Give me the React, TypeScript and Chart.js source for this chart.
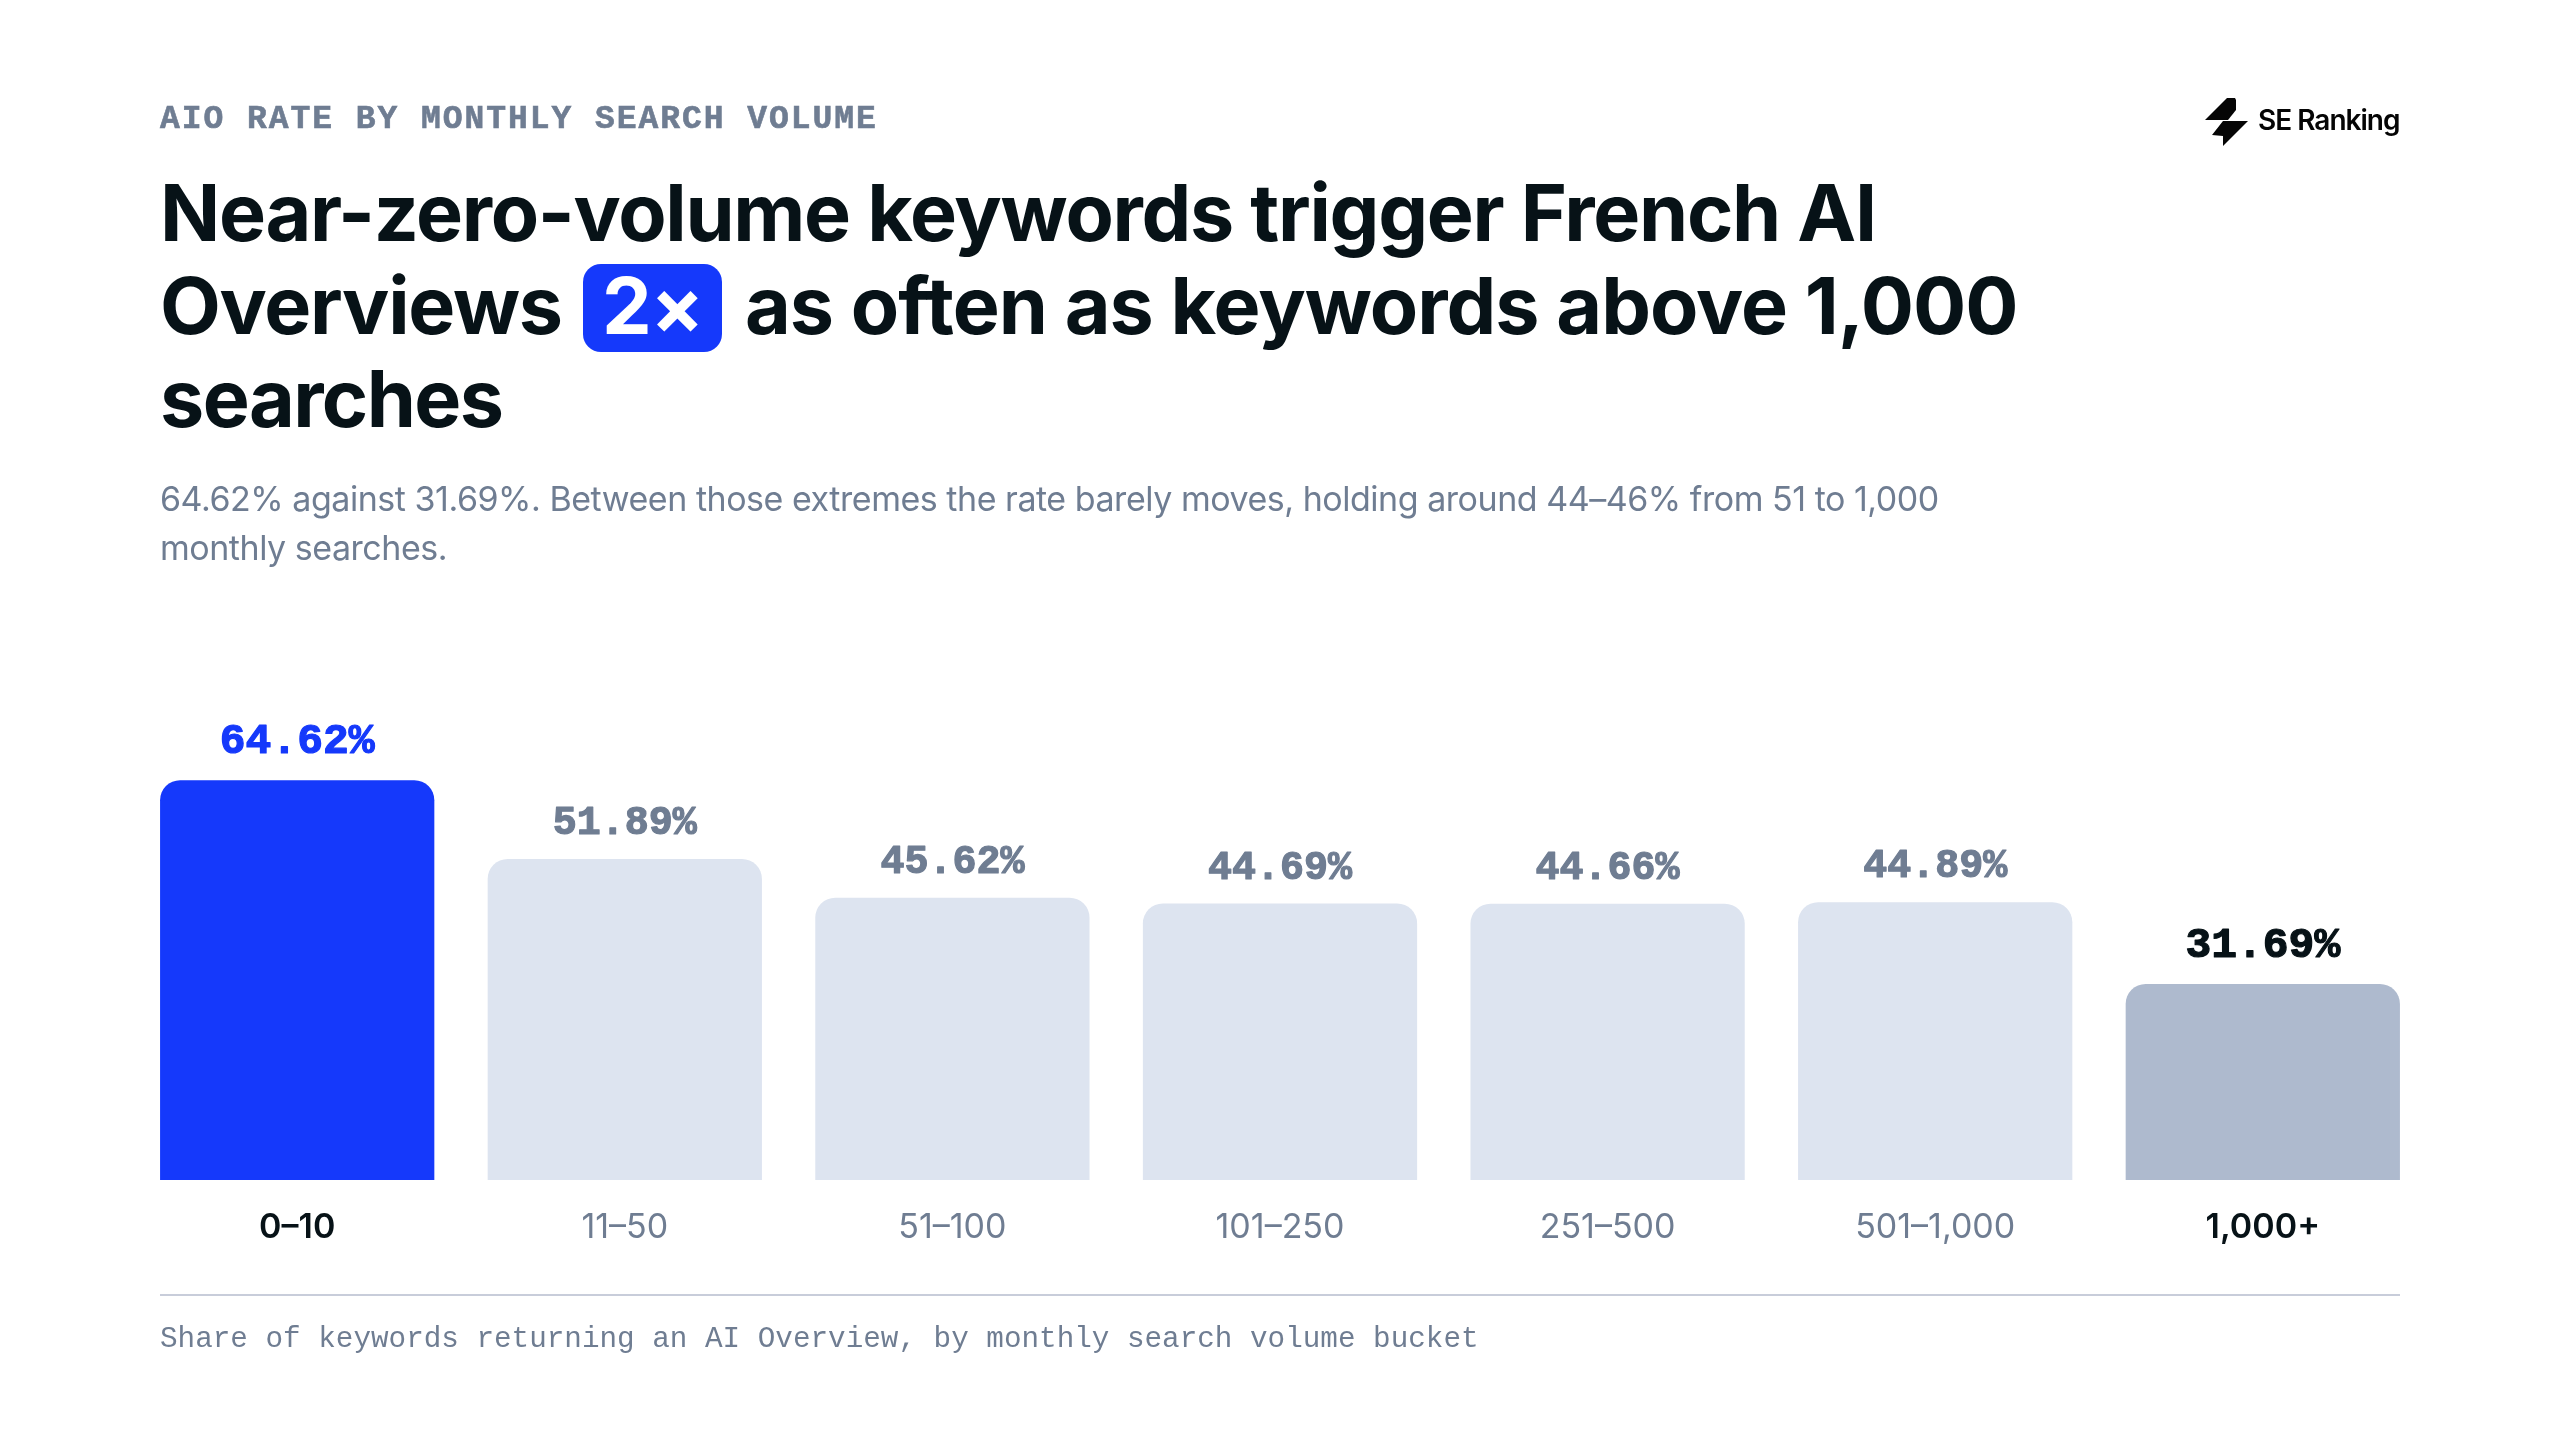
import React, { useEffect, useRef } from "react";
import { Chart, registerables } from "chart.js";

Chart.register(...registerables);

const eyebrow = "AIO RATE BY MONTHLY SEARCH VOLUME";
const titleLine1 = "Near-zero-volume keywords trigger French AI";
const titleLine2a = "Overviews";
const badge = "2×";
const titleLine2b = "as often as keywords above 1,000";
const titleLine3 = "searches";
const subtitleLine1 = "64.62% against 31.69%. Between those extremes the rate barely moves, holding around 44–46% from 51 to 1,000";
const subtitleLine2 = "monthly searches.";
const footnote = "Share of keywords returning an AI Overview, by monthly search volume bucket";
const brand = "SE Ranking";

const buckets = ["0–10", "11–50", "51–100", "101–250", "251–500", "501–1,000", "1,000+"];
const rates = [64.62, 51.89, 45.62, 44.69, 44.66, 44.89, 31.69];
const barColors = ["#1539FB", "#DDE4F0", "#DDE4F0", "#DDE4F0", "#DDE4F0", "#DDE4F0", "#AEBACE"];
const valueColors = ["#1539FB", "#6F7D92", "#6F7D92", "#6F7D92", "#6F7D92", "#6F7D92", "#071217"];
const tickColors = ["#071217", "#6F7D92", "#6F7D92", "#6F7D92", "#6F7D92", "#6F7D92", "#071217"];
const emphasised = [true, false, false, false, false, false, true];

const SANS = "Inter, sans-serif";
const MONO = "'Liberation Mono', monospace";

const valueLabels = {
  id: "valueLabels",
  afterDatasetsDraw(chart: any) {
    const { ctx } = chart;
    const meta = chart.getDatasetMeta(0);
    ctx.save();
    ctx.textAlign = "center";
    ctx.textBaseline = "middle";
    ctx.lineJoin = "round";
    meta.data.forEach((bar: any, i: number) => {
      const big = emphasised[i];
      ctx.font = `700 ${big ? 43 : 40}px ${MONO}`;
      ctx.fillStyle = valueColors[i];
      ctx.strokeStyle = valueColors[i];
      ctx.lineWidth = 1.2;
      const text = rates[i].toFixed(2) + "%";
      const y = bar.y - (big ? 37.5 : 35);
      ctx.fillText(text, bar.x, y);
      ctx.strokeText(text, bar.x, y);
    });
    ctx.restore();
  },
};

const abs = (left: number, top: number): React.CSSProperties => ({
  position: "absolute",
  left,
  top,
  whiteSpace: "pre",
  margin: 0,
});

const titleStyle: React.CSSProperties = {
  fontFamily: SANS,
  fontWeight: 700,
  fontSize: 79,
  lineHeight: "93px",
  letterSpacing: -1.3,
  color: "#071217",
};
const subStyle: React.CSSProperties = {
  fontFamily: SANS,
  fontWeight: 400,
  fontSize: 34,
  lineHeight: "49px",
  letterSpacing: -0.47,
  color: "#6F7D92",
};

export default function App() {
  const ref = useRef<HTMLCanvasElement>(null);
  useEffect(() => {
    const chart = new Chart(ref.current!, {
      type: "bar",
      data: {
        labels: buckets,
        datasets: [
          {
            data: rates,
            backgroundColor: barColors,
            borderWidth: 0,
            borderSkipped: false,
            borderRadius: { topLeft: 20, topRight: 20, bottomLeft: 0, bottomRight: 0 },
            barPercentage: 0.8372,
            categoryPercentage: 1,
          },
        ],
      },
      options: {
        responsive: false,
        animation: false,
        devicePixelRatio: 1,
        layout: { padding: { left: 133.4, right: 133.4, top: 685, bottom: 160 } },
        plugins: { legend: { display: false }, tooltip: { enabled: false }, title: { display: false } },
        scales: {
          x: {
            grid: { display: false },
            border: { display: false },
            afterFit: (s: any) => {
              s.height = 100;
            },
            ticks: {
              color: tickColors,
              padding: 19,
              maxRotation: 0,
              autoSkip: false,
              font: (c: any) => ({
                family: "Inter",
                size: 34,
                weight: emphasised[c.index] ? "600" : "400",
              }),
            },
          },
          y: { display: false, min: 0, max: 80 },
        },
      },
      plugins: [valueLabels],
    } as any);
    return () => chart.destroy();
  }, []);

  return (
    <div style={{ position: "absolute", left: 0, top: 0, width: 2560, height: 1440, background: "#fff", overflow: "hidden" }}>
      <canvas ref={ref} width={2560} height={1440} style={{ position: "absolute", left: 0, top: 0, width: 2560, height: 1440 }} />

      <div style={{ ...abs(160, 102), fontFamily: MONO, fontWeight: 700, fontSize: 33, lineHeight: "36px", letterSpacing: 1.95, color: "#6F7D92", WebkitTextStroke: "0.6px #6F7D92" }}>{eyebrow}</div>

      <div style={{ ...abs(160, 166), ...titleStyle }}>{titleLine1}</div>
      <div style={{ ...abs(160, 259), ...titleStyle }}>{titleLine2a}</div>
      <div style={{ position: "absolute", left: 583, top: 264, width: 139, height: 88, borderRadius: 18, background: "#1539FB" }} />
      <div style={{ ...abs(583, 259), ...titleStyle, width: 139, textAlign: "center", color: "#fff" }}>{badge}</div>
      <div style={{ ...abs(745, 259), ...titleStyle, letterSpacing: -1 }}>{titleLine2b}</div>
      <div style={{ ...abs(160, 352), ...titleStyle, letterSpacing: -1.6 }}>{titleLine3}</div>

      <div style={{ ...abs(160, 474), ...subStyle }}>{subtitleLine1}</div>
      <div style={{ ...abs(160, 523), ...subStyle }}>{subtitleLine2}</div>

      <svg style={{ position: "absolute", left: 0, top: 0 }} width={2560} height={200}>
        <polygon points="2227,98 2235,98 2236,100 2236,110 2228,120 2205,120" fill="#050505" />
        <polygon points="2248,121 2223,146 2223,136 2212,135 2223,121" fill="#050505" />
      </svg>
      <div style={{ ...abs(2258, 100), fontFamily: SANS, fontWeight: 600, fontSize: 28, lineHeight: "40px", letterSpacing: -1, color: "#050505" }}>{brand}</div>

      <div style={{ position: "absolute", left: 160, top: 1294, width: 2240, height: 2, background: "#C8CDDA" }} />
      <div style={{ ...abs(160, 1322), fontFamily: MONO, fontWeight: 400, fontSize: 29.3, lineHeight: "36px", color: "#6F7D92" }}>{footnote}</div>
    </div>
  );
}
